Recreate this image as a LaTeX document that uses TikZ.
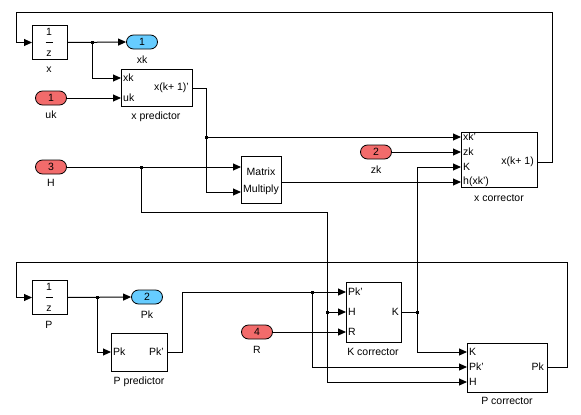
\documentclass[tikz,border=0pt]{standalone}
\usepackage{fontspec}
\setmainfont{Liberation Sans}
\usetikzlibrary{arrows.meta}
\definecolor{inred}{HTML}{F26B6B}
\definecolor{outblue}{HTML}{66CCFF}
\begin{document}
\begin{tikzpicture}[x=1pt,y=-1pt,
  font=\fontsize{10.5}{11}\selectfont,
  wire/.style={line width=1pt},
  sig/.style={wire,-{Triangle[length=8pt,width=7pt]}},
  blk/.style={draw,line width=1pt,inner sep=0,anchor=north west},
  inport/.style={draw,line width=0.8pt,fill=inred,rounded corners=7pt,minimum width=31pt,minimum height=14pt,inner sep=0},
  outport/.style={inport,fill=outblue},
  lbl/.style={inner sep=0},
  plbl/.style={inner sep=0,anchor=west},
  elbl/.style={inner sep=0,anchor=east},
  jdot/.style={fill,inner sep=0,minimum size=3pt}
]
\useasboundingbox (0,0) rectangle (581,415);
\fill[white] (0,0) rectangle (581,415);

% ---------- blocks ----------
\node[blk,minimum width=35pt,minimum height=34pt] (xdel) at (32,25) {};
\node[lbl] (xdel1) at (49,32) {1};
\draw[line width=0.8pt] (45.5,42) -- (52.5,42);
\node[lbl] (xdelz) at (49,54) {z};
\node[lbl] (xdellbl) at (49,70) {x};

\node[blk,minimum width=71pt,minimum height=37pt] (xpred) at (121,69) {};
\node[plbl] (xpredp1) at (123,78) {xk};
\node[plbl] (xpredp2) at (123,98) {uk};
\node[elbl] (xpredo) at (189,88) {x(k+ 1)'};
\node[lbl] (xpredlbl) at (156,117) {x predictor};

\node[blk,minimum width=40pt,minimum height=47pt] (mm) at (241,156) {};
\node[lbl] (mm1) at (261,172) {Matrix};
\node[lbl] (mm2) at (261,190) {Multiply};

\node[blk,minimum width=76pt,minimum height=55pt] (xcor) at (461,132) {};
\node[plbl] (xcorp1) at (463,137) {xk'};
\node[plbl] (xcorp2) at (463,152) {zk};
\node[plbl] (xcorp3) at (463,167) {K};
\node[plbl] (xcorp4) at (463,182) {h(xk')};
\node[elbl] (xcoro) at (534,162) {x(k+ 1)};
\node[lbl] (xcorlbl) at (499,198) {x corrector};

\node[blk,minimum width=35pt,minimum height=34pt] (Pdel) at (32,280) {};
\node[lbl] (Pdel1) at (49,287) {1};
\draw[line width=0.8pt] (45.5,297) -- (52.5,297);
\node[lbl] (Pdelz) at (49,309) {z};
\node[lbl] (Pdellbl) at (49,325) {P};

\node[blk,minimum width=56pt,minimum height=38pt] (Ppred) at (111,333) {};
\node[plbl] (Ppredp1) at (113,352) {Pk};
\node[elbl] (Ppredo) at (164,352) {Pk'};
\node[lbl] (Ppredlbl) at (139,382) {P predictor};

\node[blk,minimum width=55pt,minimum height=60pt] (Kcor) at (346,282) {};
\node[plbl] (Kcorp1) at (348,292) {Pk'};
\node[plbl] (Kcorp2) at (348,312) {H};
\node[plbl] (Kcorp3) at (348,332) {R};
\node[elbl] (Kcoro) at (399,312) {K};
\node[lbl] (Kcorlbl) at (373,352) {K corrector};

\node[blk,minimum width=80pt,minimum height=49pt] (Pcor) at (467,343) {};
\node[plbl] (Pcorp1) at (469,352) {K};
\node[plbl] (Pcorp2) at (469,367) {Pk'};
\node[plbl] (Pcorp3) at (469,382) {H};
\node[elbl] (Pcoro) at (544,367) {Pk};
\node[lbl] (Pcorlbl) at (507,401) {P corrector};

% ---------- ports ----------
\node[outport] (xk) at (142,42) {1};
\node[lbl] (xklbl) at (142,60) {xk};
\node[inport] (uk) at (51,98) {1};
\node[lbl] (uklbl) at (51,115) {uk};
\node[inport] (H) at (51,167) {3};
\node[lbl] (Hlbl) at (51,183) {H};
\node[inport] (zk) at (376,152) {2};
\node[lbl] (zklbl) at (376,170) {zk};
\node[outport] (Pk) at (147,297) {2};
\node[lbl] (Pklbl) at (147,315) {Pk};
\node[inport] (R) at (257,332) {4};
\node[lbl] (Rlbl) at (257,350) {R};

% ---------- port coordinates ----------
\coordinate (xpredI1) at (121,78);
\coordinate (xpredI2) at (121,98);
\coordinate (xpredO) at (192,88);
\coordinate (mmI1) at (241,167);
\coordinate (mmI2) at (241,192);
\coordinate (mmO) at (281,182);
\coordinate (xcorI1) at (461,137);
\coordinate (xcorI2) at (461,152);
\coordinate (xcorI3) at (461,167);
\coordinate (xcorI4) at (461,182);
\coordinate (xcorO) at (537,162);
\coordinate (PpredI) at (111,352);
\coordinate (PpredO) at (167,352);
\coordinate (KcorI1) at (346,292);
\coordinate (KcorI2) at (346,312);
\coordinate (KcorI3) at (346,332);
\coordinate (KcorO) at (401,312);
\coordinate (PcorI1) at (467,352);
\coordinate (PcorI2) at (467,367);
\coordinate (PcorI3) at (467,382);
\coordinate (PcorO) at (547,367);

% junctions
\coordinate (j1) at (92,42);
\coordinate (j2) at (206,137);
\coordinate (j3) at (141,167);
\coordinate (j4) at (97,297);
\coordinate (j5) at (312,292);
\coordinate (j6) at (327,312);
\coordinate (j7) at (417,312);

% ---------- wires ----------
\draw[sig] (xdel.east) -- (xk.west);
\draw[sig] (j1) |- (xpredI1);
\draw[sig] (uk.east) -- (xpredI2);
\draw[sig] (xpredO) -- (206,88) |- (mmI2);
\draw[sig] (j2) -- (xcorI1);
\draw[sig] (H.east) -- (mmI1);
\draw[sig] (j3) -- (141,212) -- (327,212) |- (PcorI3);
\draw[sig] (j6) -- (KcorI2);
\draw[sig] (mmO) -- (xcorI4);
\draw[sig] (zk.east) -- (xcorI2);
\draw[sig] (xcorO) -- (552,162) -- (552,12) -- (16,12) |- (xdel.west);

\draw[sig] (Pdel.east) -- (Pk.west);
\draw[sig] (j4) |- (PpredI);
\draw[sig] (PpredO) -- (182,352) |- (KcorI1);
\draw[sig] (j5) |- (PcorI2);
\draw[sig] (R.east) -- (KcorI3);
\draw[wire] (KcorO) -- (j7);
\draw[sig] (j7) |- (xcorI3);
\draw[sig] (j7) |- (PcorI1);
\draw[sig] (PcorO) -- (567,367) -- (567,262) -- (16,262) |- (Pdel.west);

\foreach \j in {j1,j2,j3,j4,j5,j6,j7} \node[jdot] at (\j) {};
\end{tikzpicture}
\end{document}
